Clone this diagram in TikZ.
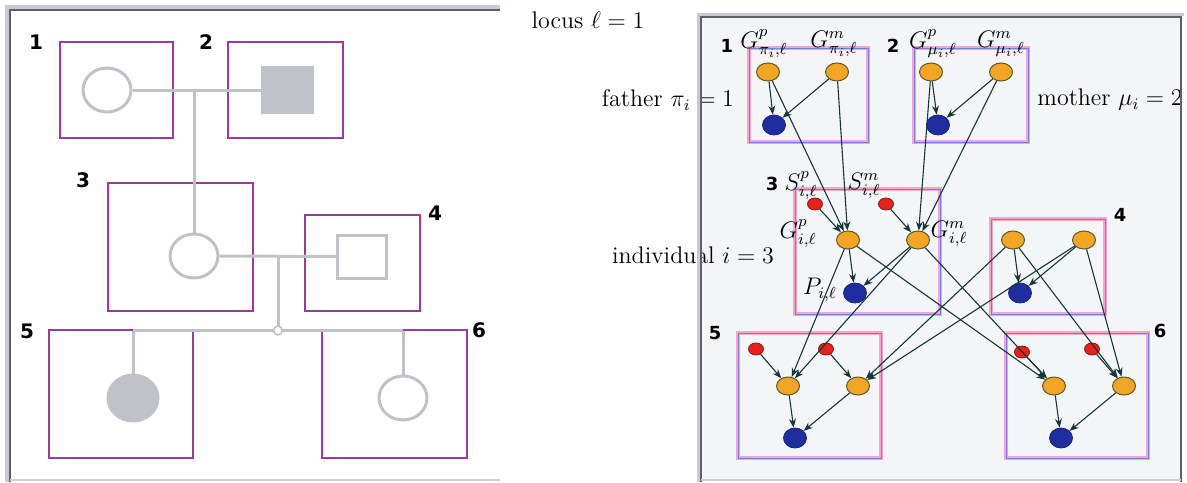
\documentclass[tikz,border=0pt]{standalone}
\usepackage{fontspec}
\usepackage{amsmath,amssymb}
\usepackage{xcolor}
\usepackage{tikz}
\usetikzlibrary{arrows.meta,positioning,shapes.geometric}
\newfontfamily\numfont{DejaVu Sans}
\definecolor{cPed}{HTML}{BFC3C9}
\definecolor{cPurple}{HTML}{9A3A9C}
\definecolor{cFrameL}{HTML}{C9CAD9}
\definecolor{cFrameD}{HTML}{5E6066}
\definecolor{cPanel}{HTML}{F4F5F6}
\definecolor{cPlateP}{HTML}{F2A6CF}
\definecolor{cPlateB}{HTML}{7C78E4}
\definecolor{cOrange}{HTML}{F2A623}
\definecolor{cBlue}{HTML}{1F2E9E}
\definecolor{cRed}{HTML}{E4231C}
\definecolor{cArrow}{HTML}{17363A}
\tikzset{
  ped/.style={draw=cPed,line width=1.5pt},
  pedcirc/.style={ellipse,draw=cPed,line width=1.5pt,fill=white,minimum width=24pt,minimum height=22pt,inner sep=0pt},
  pedsq/.style={rectangle,draw=cPed,line width=1.5pt,fill=white,minimum width=24.5pt,minimum height=21.5pt,inner sep=0pt},
  lplate/.style={draw=cPurple,line width=0.7pt},
  rplate/.style={draw=cPlateB,line width=0.5pt,preaction={draw=cPlateP,line width=1.6pt}},
  num/.style={font=\numfont\bfseries,text=black,inner sep=0pt},
  rnum/.style={font=\numfont\bfseries\small,text=black,inner sep=0pt},
  gnode/.style={ellipse,draw=cArrow!70!cOrange,fill=cOrange,line width=0.5pt,minimum width=11.5pt,minimum height=9pt,inner sep=0pt},
  pnode/.style={ellipse,draw=cBlue!80!black,fill=cBlue,line width=0.4pt,minimum width=11.5pt,minimum height=10pt,inner sep=0pt},
  snode/.style={ellipse,draw=cRed!60!black,fill=cRed,line width=0.4pt,minimum width=7.5pt,minimum height=6pt,inner sep=0pt},
  arr/.style={-{Stealth[length=4.5pt,width=3.5pt]},line width=0.55pt,color=cArrow},
  lbl/.style={font=\large,inner sep=0pt},
}

\begin{document}
\begin{tikzpicture}[x=0.5pt,y=-0.5pt]
  \useasboundingbox (0,0) rectangle (1187,482);
  % pedigree panel
  \fill[cFrameL] (5,5) rectangle (500,9.5);
  \fill[cFrameL] (5,5) rectangle (8.5,482);
  \draw[cFrameD,line width=1pt] (9.5,482) -- (9.5,10) -- (500,10);
  \draw[cPed!80,line width=0.8pt] (9.5,480) -- (500,480);

  \draw[lplate] (60,42) rectangle (173,138);
  \draw[lplate] (228,42) rectangle (343,138);
  \draw[lplate] (108,183) rectangle (253,311);
  \draw[lplate] (305,215) rectangle (420,311);
  \draw[lplate] (49,330) rectangle (193,458);
  \draw[lplate] (322,330) rectangle (467,458);

  \node[num] (lab1) at (36,42) {1};
  \node[num] (lab2) at (206,42) {2};
  \node[num] (lab3) at (83,180) {3};
  \node[num] (lab4) at (435,213) {4};
  \node[num] (lab5) at (27,331) {5};
  \node[num] (lab6) at (479,330) {6};

  \node[pedcirc] (ind1) at (107,90) {};
  \node[pedsq,fill=cPed,minimum width=25pt,minimum height=22.5pt] (ind2) at (287,90) {};
  \node[pedcirc] (ind3) at (194,256) {};
  \node[pedsq] (ind4) at (362,256.5) {};
  \node[pedcirc,fill=cPed,minimum width=25pt,minimum height=23pt] (ind5) at (133,398) {};
  \node[pedcirc] (ind6) at (403,398) {};
  \coordinate (mate12) at (194,90);
  \coordinate (mate34) at (278,256.5);
  \coordinate (sib) at (278,330.5);
  \coordinate (kid5) at (133,330.5);
  \coordinate (kid6) at (403,330.5);

  \draw[ped] (ind1) -- (ind2);
  \draw[ped] (mate12) -- (ind3);
  \draw[ped] (ind3) -- (ind4);
  \draw[ped] (mate34) -- (sib);
  \draw[ped] (kid5) -- (kid6);
  \draw[ped] (kid5) -- (ind5);
  \draw[ped] (kid6) -- (ind6);
  \filldraw[fill=white,draw=cPed,line width=0.8pt] (sib) circle (2.2pt);

  % network panel
  \fill[cPanel] (700,16) rectangle (1181,481);

  \node[lbl] (locus) at (588,20) {locus $\ell=1$};
  \node[lbl] (father) at (668,100) {father $\pi_i=1$};
  \node[lbl,anchor=west] (mother) at (1037,100) {mother $\mu_i=2$};
  \node[lbl] (indiv) at (693,255) {individual $i=3$};

  \fill[cFrameL] (697,13) rectangle (1184,16);
  \fill[cFrameL] (697,13) rectangle (699.5,482);
  \draw[cFrameD,line width=1pt] (700.5,482) -- (700.5,16.5) -- (1181,16.5) -- (1181,482);
  \draw[cPed!80,line width=0.8pt] (700.5,480) -- (1181,480);

  \draw[rplate] (749,48) rectangle (868,142);
  \draw[rplate] (914,48) rectangle (1028,142);
  \draw[rplate] (795,189) rectangle (940,314);
  \draw[rplate] (991,219) rectangle (1105,314);
  \draw[rplate] (738,333) rectangle (881,458);
  \draw[rplate] (1006,333) rectangle (1148,458);

  \node[rnum] (rlab1) at (727,46) {1};
  \node[rnum] (rlab2) at (893,46) {2};
  \node[rnum] (rlab3) at (772,184) {3};
  \node[rnum] (rlab4) at (1120,215) {4};
  \node[rnum] (rlab5) at (715,333) {5};
  \node[rnum] (rlab6) at (1160,331) {6};

  \node[gnode] (Gp1) at (768,72) {};
  \node[gnode] (Gm1) at (837,72) {};
  \node[pnode] (P1) at (774,125) {};
  \node[gnode] (Gp2) at (931,72) {};
  \node[gnode] (Gm2) at (1001,72) {};
  \node[pnode] (P2) at (938,125) {};

  \node[snode] (Sp3) at (815,204) {};
  \node[snode] (Sm3) at (886,204) {};
  \node[gnode] (Gp3) at (848,240) {};
  \node[gnode] (Gm3) at (918,240) {};
  \node[pnode] (P3) at (855,293) {};
  \node[gnode] (Gp4) at (1013,240) {};
  \node[gnode] (Gm4) at (1084,240) {};
  \node[pnode] (P4) at (1020,293) {};

  \node[snode] (Sp5) at (756,349) {};
  \node[snode] (Sm5) at (826,349) {};
  \node[gnode] (Gp5) at (788,386) {};
  \node[gnode] (Gm5) at (858,386) {};
  \node[pnode] (P5) at (795,438) {};
  \node[snode] (Sp6) at (1022,352) {};
  \node[snode] (Sm6) at (1092,349) {};
  \node[gnode] (Gp6) at (1054,386) {};
  \node[gnode] (Gm6) at (1124,386) {};
  \node[pnode] (P6) at (1061,438) {};

  \node[lbl] (GpLab1) at (764,44) {$G^p_{\pi_i,\ell}$};
  \node[lbl] (GmLab1) at (834,44) {$G^m_{\pi_i,\ell}$};
  \node[lbl] (GpLab2) at (933,44) {$G^p_{\mu_i,\ell}$};
  \node[lbl] (GmLab2) at (1001,44) {$G^m_{\mu_i,\ell}$};
  \node[lbl] (SpLab3) at (801,186) {$S^p_{i,\ell}$};
  \node[lbl] (SmLab3) at (864,186) {$S^m_{i,\ell}$};
  \node[lbl] (GpLab3) at (798,234) {$G^p_{i,\ell}$};
  \node[lbl] (GmLab3) at (949,234) {$G^m_{i,\ell}$};
  \node[lbl] (PLab3) at (820,290) {$P_{i,\ell}$};

  \foreach \k in {1,...,6} {
    \draw[arr] (Gp\k) -- (P\k);
    \draw[arr] (Gm\k) -- (P\k);
  }
  \foreach \k in {3,5,6} {
    \draw[arr] (Sp\k) -- (Gp\k);
    \draw[arr] (Sm\k) -- (Gm\k);
  }
  \foreach \g in {Gp,Gm} {
    \draw[arr] (\g1) -- (Gp3);
    \draw[arr] (\g2) -- (Gm3);
    \draw[arr] (\g3) -- (Gp5);
    \draw[arr] (\g3) -- (Gp6);
    \draw[arr] (\g4) -- (Gm5);
    \draw[arr] (\g4) -- (Gm6);
  }
\end{tikzpicture}
\end{document}
